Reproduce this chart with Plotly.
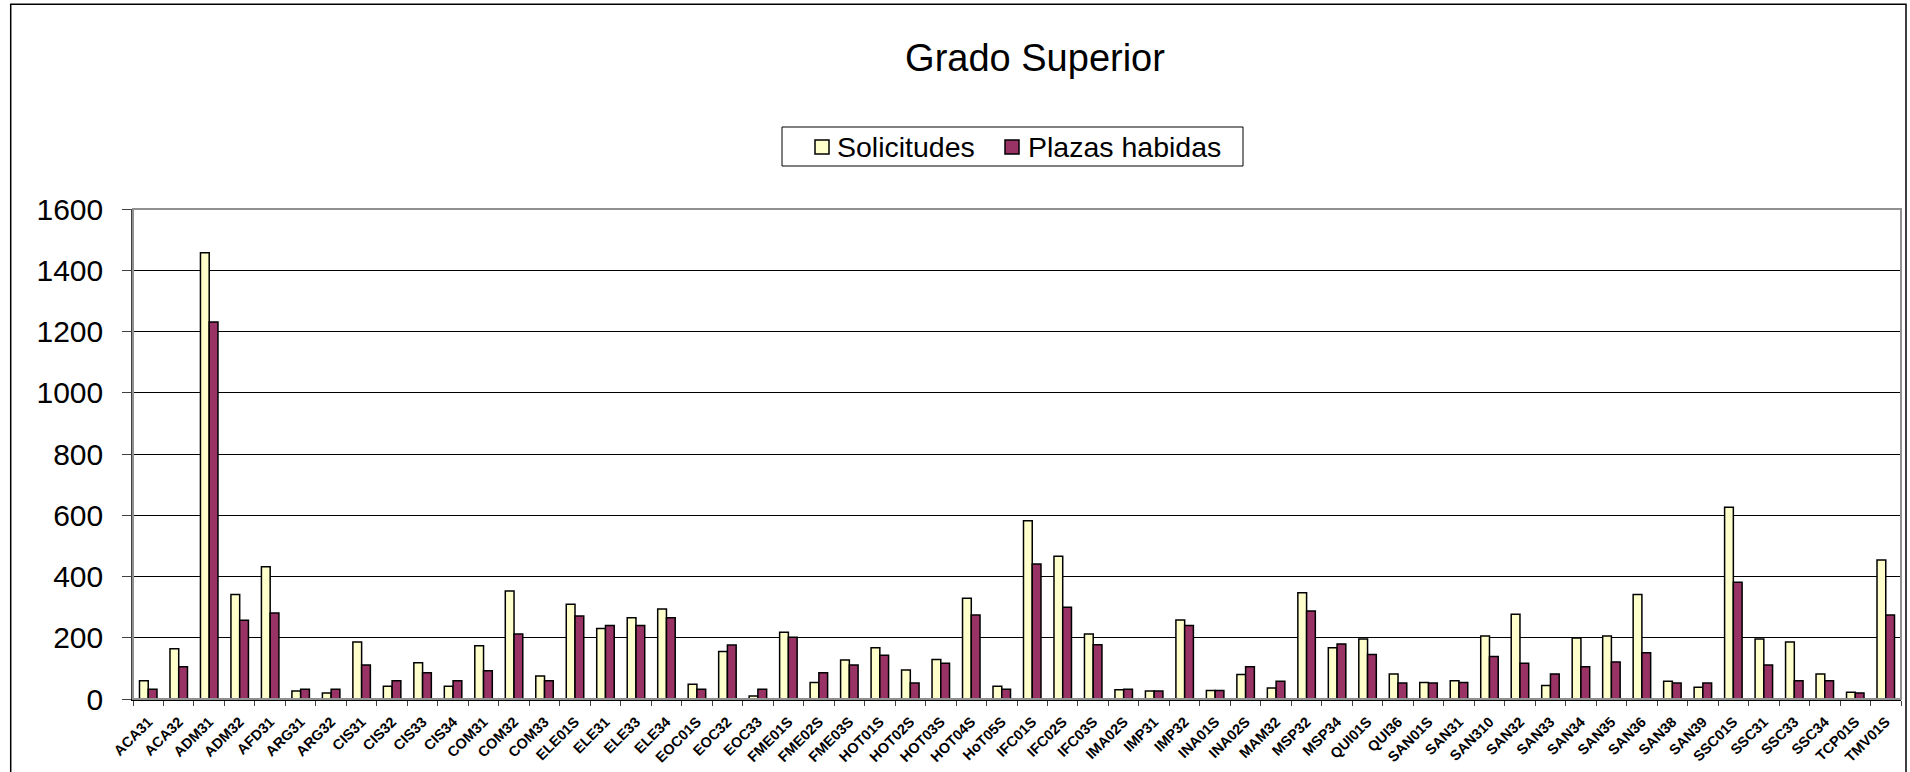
import plotly.graph_objects as go

categories = ["ACA31", "ACA32", "ADM31", "ADM32", "AFD31", "ARG31", "ARG32", "CIS31", "CIS32", "CIS33",
              "CIS34", "COM31", "COM32", "COM33", "ELE01S", "ELE31", "ELE33", "ELE34", "EOC01S", "EOC32",
              "EOC33", "FME01S", "FME02S", "FME03S", "HOT01S", "HOT02S", "HOT03S", "HOT04S", "HoT05S", "IFC01S",
              "IFC02S", "IFC03S", "IMA02S", "IMP31", "IMP32", "INA01S", "INA02S", "MAM32", "MSP32", "MSP34",
              "QUI01S", "QUI36", "SAN01S", "SAN31", "SAN310", "SAN32", "SAN33", "SAN34", "SAN35", "SAN36",
              "SAN38", "SAN39", "SSC01S", "SSC31", "SSC33", "SSC34", "TCP01S", "TMV01S"]

solicitudes = [60, 164, 1457, 341, 432, 26, 20, 186, 42, 118,
               42, 174, 353, 75, 309, 230, 265, 294, 48, 155,
               10, 218, 54, 127, 167, 95, 129, 329, 42, 582,
               466, 212, 30, 26, 258, 28, 80, 36, 347, 167,
               196, 82, 54, 60, 206, 277, 44, 199, 206, 341,
               58, 38, 626, 196, 186, 82, 22, 454]

plazas_habidas = [32, 105, 1231, 257, 281, 32, 32, 111, 60, 86,
                  60, 92, 212, 60, 271, 240, 240, 265, 32, 176,
                  32, 202, 86, 111, 143, 52, 117, 274, 32, 441,
                  300, 177, 32, 26, 240, 28, 105, 58, 287, 180,
                  145, 52, 52, 54, 139, 117, 82, 105, 121, 151,
                  52, 52, 381, 111, 60, 60, 20, 274]

series_names = ["Solicitudes", "Plazas habidas"]
series_colors = ["#FFFFCC", "#993366"]

FONT = "Liberation Sans, Arial, sans-serif"
W, H = 1910, 772
L, R, T, B = 133, 9, 209, 73
pw, ph = W - L - R, H - T - B


def px_x(p):
    return (p - L) / pw


def px_y(p):
    return (H - B - p) / ph


fig = go.Figure()
for name, vals, col in zip(series_names, [solicitudes, plazas_habidas], series_colors):
    fig.add_trace(go.Bar(name=name, x=categories, y=vals, showlegend=False,
                         marker=dict(color=col, line=dict(color="#000000", width=1.5))))

# frame, plot border and legend box drawn in pixel positions
shapes = [
    dict(type="rect", xref="paper", yref="paper", x0=0, x1=1, y0=0, y1=1,
         line=dict(color="#909090", width=2), layer="above"),
    dict(type="rect", xref="paper", yref="paper",
         x0=px_x(10.7), x1=px_x(1906), y0=px_y(776), y1=px_y(4.3),
         line=dict(color="#000000", width=1.5), layer="above"),
    dict(type="rect", xref="paper", yref="paper",
         x0=px_x(782), x1=px_x(1243), y0=px_y(166), y1=px_y(127),
         line=dict(color="#000000", width=1), fillcolor="white", layer="above"),
]
annotations = []
legend_sq_x = [815, 1005]
legend_tx_x = [836, 1027]
for name, col, sx, tx in zip(series_names, series_colors, legend_sq_x, legend_tx_x):
    shapes.append(dict(type="rect", xref="paper", yref="paper",
                       x0=px_x(sx), x1=px_x(sx + 14), y0=px_y(154), y1=px_y(140),
                       line=dict(color="#000000", width=1.5), fillcolor=col, layer="above"))
    annotations.append(dict(text=name, xref="paper", yref="paper", x=px_x(tx), y=px_y(147),
                            xanchor="left", yanchor="middle", showarrow=False,
                            font=dict(size=28.5, family=FONT, color="black"), borderpad=0))

fig.update_layout(
    width=W, height=H,
    margin=dict(l=L, r=R, t=T, b=B, autoexpand=False),
    paper_bgcolor="white", plot_bgcolor="white",
    barmode="group", bargap=0.426, bargroupgap=0,
    showlegend=False,
    font=dict(family=FONT, color="black"),
    title=dict(text="Grado Superior", font=dict(size=38, family=FONT, color="black"),
               x=1035 / W, xref="container", xanchor="center",
               y=1 - 58 / H, yref="container", yanchor="middle"),
    xaxis=dict(type="category", tickangle=-45, tickson="boundaries",
               ticks="outside", ticklen=5, tickcolor="#404040", tickwidth=1,
               tickfont=dict(size=14.5, family=FONT, color="black", weight="bold"),
               ticklabelstandoff=7,
               showline=True, linecolor="#000000", linewidth=1.5,
               showgrid=False, automargin=False),
    yaxis=dict(range=[0, 1600], dtick=200, tick0=0,
               ticks="outside", ticklen=9, tickcolor="#404040", tickwidth=1,
               tickfont=dict(size=30, family=FONT, color="black"),
               ticklabelstandoff=13,
               showline=True, linecolor="#404040", linewidth=1.5,
               showgrid=True, gridcolor="#000000", gridwidth=1,
               zeroline=False, automargin=False),
    shapes=shapes,
    annotations=annotations,
)

fig.write_html("out.html", config={"displayModeBar": False},
               post_script="document.body.style.margin='0px';")
